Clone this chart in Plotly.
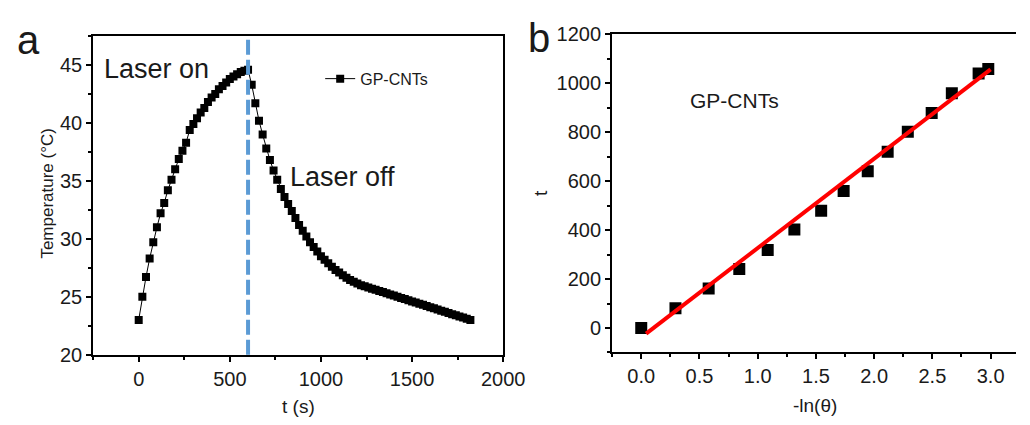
import plotly.graph_objects as go

# ---------------- data: panel a ----------------
heat_t = [0, 20, 40, 60, 80, 100, 120, 140, 160, 180, 200, 220, 240, 260, 280, 300,
          320, 340, 360, 380, 400, 420, 440, 460, 480, 500, 520, 540, 560, 580, 600]
heat_T = [23.0, 25.0, 26.7, 28.3, 29.7, 31.0, 32.2, 33.1, 34.2, 35.1, 36.0, 36.9, 37.6,
          38.3, 39.4, 39.9, 40.4, 40.9, 41.3, 41.8, 42.2, 42.5, 42.9, 43.2, 43.5, 43.8,
          44.0, 44.2, 44.4, 44.5, 44.6]
cool_t = [620, 640, 660, 680, 700, 720, 740, 760, 780, 800, 820, 840, 860, 880, 900,
          920, 940, 960, 980, 1000, 1020, 1040, 1060, 1080, 1100, 1120, 1140, 1160,
          1180, 1200, 1220, 1240, 1260, 1280, 1300, 1320, 1340, 1360, 1380, 1400, 1420,
          1440, 1460, 1480, 1500, 1520, 1540, 1560, 1580, 1600, 1620, 1640, 1660, 1680,
          1700, 1720, 1740, 1760, 1780, 1800, 1820]
cool_T = [43.3, 41.7, 40.2, 39.0, 37.8, 36.8, 35.9, 35.1, 34.3, 33.6, 33.0, 32.4, 31.8,
          31.2, 30.7, 30.2, 29.7, 29.3, 28.9, 28.5, 28.2, 27.9, 27.6, 27.3, 27.1, 26.85,
          26.65, 26.45, 26.3, 26.15, 26.0, 25.9, 25.8, 25.7, 25.6, 25.5, 25.4, 25.3,
          25.2, 25.1, 25.0, 24.9, 24.8, 24.7, 24.6, 24.5, 24.4, 24.3, 24.2, 24.1, 24.0,
          23.9, 23.8, 23.7, 23.6, 23.5, 23.4, 23.3, 23.2, 23.1, 23.0]
laser_off_time = 600

# ---------------- data: panel b ----------------
neg_ln_theta = [0.0, 0.294, 0.579, 0.842, 1.086, 1.315, 1.545, 1.738, 1.945, 2.116,
                2.289, 2.494, 2.667, 2.897, 2.98]
time_b = [0, 81, 161, 241, 319, 402, 479, 560, 640, 720, 801, 878, 959, 1039, 1058]
fit_slope = 364.8
fit_intercept = -38.3
fit_x = [0.042, 3.0]

W, H = 1030, 425
FONT = "Liberation Sans, Arial, sans-serif"
TXT = "#1a1a1a"


def px(x):
    return x / W


def py(y):
    return 1 - y / H


fig = go.Figure()

# panel a
fig.add_trace(go.Scatter(
    x=heat_t + cool_t, y=heat_T + cool_T, mode="lines+markers", name="GP-CNTs",
    line=dict(color="black", width=1),
    marker=dict(symbol="square", size=8, color="black"),
    xaxis="x", yaxis="y", showlegend=True))

# panel b
fig.add_trace(go.Scatter(
    x=neg_ln_theta, y=time_b, mode="markers", name="GP-CNTs b",
    marker=dict(symbol="square", size=12, color="black"),
    xaxis="x2", yaxis="y2", showlegend=False))
fig.add_trace(go.Scatter(
    x=fit_x, y=[fit_slope * v + fit_intercept for v in fit_x], mode="lines",
    line=dict(color="#ff0000", width=4), xaxis="x2", yaxis="y2", showlegend=False))

axis_common = dict(
    showline=True, linecolor="black", linewidth=2, showgrid=False, zeroline=False,
    ticks="outside", ticklen=5, tickwidth=2, tickcolor="black",
    tickfont=dict(family=FONT, size=20, color=TXT),
)

fig.update_layout(
    width=W, height=H, margin=dict(l=0, r=0, t=0, b=0),
    paper_bgcolor="white", plot_bgcolor="white",
    font=dict(family=FONT, color=TXT),
    xaxis=dict(domain=[px(87), px(506)], range=[-250, 2000], dtick=500, mirror=True,
               minor=dict(ticks="outside", ticklen=3, tickwidth=1.5, dtick=250, tickcolor="black"),
               anchor="y", **axis_common),
    yaxis=dict(domain=[py(354), py(18)], range=[20, 47.5], dtick=5, mirror=True,
               minor=dict(ticks="outside", ticklen=3, tickwidth=1.5, dtick=2.5, tickcolor="black"),
               anchor="x", **axis_common),
    xaxis2=dict(domain=[px(617.3), 1.0], range=[-0.25, 3.218], dtick=0.5, tick0=0,
                tickformat=".1f", mirror=True,
                minor=dict(ticks="outside", ticklen=3, tickwidth=1.5, dtick=0.25, tickcolor="black"),
                anchor="y2", **axis_common),
    yaxis2=dict(domain=[py(351.7), py(16)], range=[-100, 1200], dtick=200, tick0=0,
                minor=dict(ticks="outside", ticklen=3, tickwidth=1.5, dtick=100, tickcolor="black"),
                anchor="x2", **axis_common),
    legend=dict(x=px(319), y=py(63), xanchor="left", yanchor="middle",
                bgcolor="rgba(0,0,0,0)", font=dict(family=FONT, size=16, color=TXT),
                itemwidth=30, tracegroupgap=0),
    shapes=[dict(type="line", xref="x", yref="y domain", x0=laser_off_time, x1=laser_off_time,
                 y0=0, y1=1, line=dict(color="#5b9bd5", width=4, dash="15px,5px"))],
)

annotations = [
    dict(text="a", x=px(21), y=py(22), size=40),
    dict(text="b", x=px(543), y=py(20), size=40),
    dict(text="Laser on", x=px(152), y=py(53), size=27),
    dict(text="Laser off", x=px(342), y=py(167), size=27),
    dict(text="GP-CNTs", x=px(742), y=py(86), size=21),
    dict(text="t (s)", x=px(297), y=py(409), size=19),
    dict(text="-ln(θ)", x=px(825), y=py(408), size=19),
    dict(text="Temperature (°C)", x=px(40), y=py(184), size=17, angle=-90),
    dict(text="t", x=px(544), y=py(183), size=19, angle=-90),
]
for a in annotations:
    fig.add_annotation(text=a["text"], x=a["x"], y=a["y"], xref="paper", yref="paper",
                       xanchor="center", yanchor="middle", showarrow=False,
                       textangle=a.get("angle", 0),
                       font=dict(family=FONT, size=a["size"], color=TXT))

fig.write_html("out.html")
